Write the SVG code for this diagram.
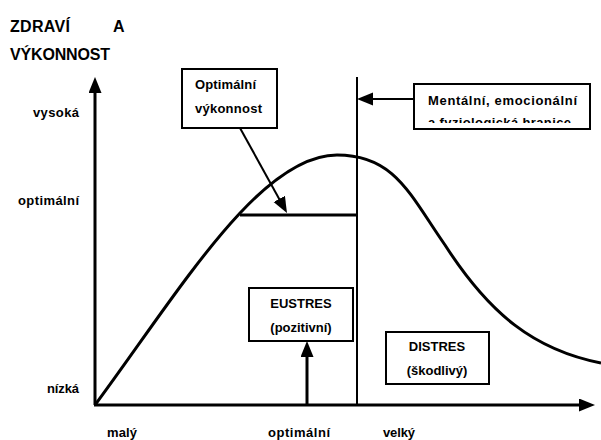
<svg xmlns="http://www.w3.org/2000/svg" width="601" height="440" viewBox="0 0 601 440">
<style>
text{font-family:"Liberation Sans",Arial,sans-serif;font-weight:bold;fill:#000}
.t{font-size:16px}
.l{font-size:13px}
.box{fill:#fff;stroke:#000;stroke-width:2}
.ax{stroke:#000;stroke-width:3;fill:none}
.ln{stroke:#000;stroke-width:2;fill:none}
.c{text-anchor:middle}
</style>
<defs>
<marker id="ah" markerUnits="userSpaceOnUse" markerWidth="17" markerHeight="14" refX="2" refY="6.5" orient="auto" viewBox="0 0 17 14">
<path d="M0,0 L16,6.5 L0,13 z" fill="#000"/>
</marker>
<clipPath id="clipM"><rect x="415" y="85" width="174" height="38"/></clipPath>
</defs>
<rect width="601" height="440" fill="#fff"/>
<g id="title">
<text class="t" x="10" y="32" textLength="60">ZDRAVÍ</text>
<text class="t" x="113" y="32">A</text>
<text class="t" x="10" y="60" textLength="100">VÝKONNOST</text>
</g>
<g id="axis-labels">
<text class="l" x="79" y="117" text-anchor="end" textLength="46">vysoká</text>
<text class="l" x="79" y="205" text-anchor="end" textLength="61">optimální</text>
<text class="l" x="79" y="393" text-anchor="end" textLength="32">nízká</text>
<text class="l" x="107" y="437" textLength="30">malý</text>
<text class="l" x="268" y="437" textLength="62">optimální</text>
<text class="l" x="383" y="437" textLength="32">velký</text>
</g>
<g id="curve">
<path class="ax" d="M95,405 C180,290 260,155 337,155 C395,155 410,195 445,245 C490,315 535,350 601,363"/>
</g>
<g id="connectors">
<line class="ax" x1="95" y1="405" x2="95" y2="91" marker-end="url(#ah)"/>
<line class="ax" x1="94" y1="405" x2="581" y2="405" marker-end="url(#ah)"/>
<line class="ln" x1="357" y1="77" x2="357" y2="405"/>
<line class="ax" x1="240" y1="215" x2="357" y2="215"/>
<line class="ln" x1="240" y1="128" x2="280.2" y2="200.7" marker-end="url(#ah)"/>
<line class="ln" x1="414" y1="99" x2="371" y2="99" marker-end="url(#ah)"/>
<line class="ax" x1="307" y1="405" x2="307" y2="355" marker-end="url(#ah)"/>
</g>
<g id="box-optimalni">
<rect class="box" x="182" y="69" width="95" height="59"/>
<text class="l" x="195" y="89" textLength="61">Optimální</text>
<text class="l" x="195" y="113" textLength="67">výkonnost</text>
</g>
<g id="box-hranice">
<rect class="box" x="414" y="84" width="176" height="45"/>
<g clip-path="url(#clipM)">
<text class="l" x="428" y="105" textLength="149">Mentální, emocionální</text>
<text class="l" x="428" y="127" textLength="143">a fyziologická hranice</text>
</g>
</g>
<g id="box-eustres">
<rect class="box" x="249" y="288" width="104" height="53"/>
<text class="l c" x="301" y="308">EUSTRES</text>
<text class="l c" x="301" y="332">(pozitivní)</text>
</g>
<g id="box-distres">
<rect class="box" x="386" y="332" width="103" height="52"/>
<text class="l c" x="437" y="351">DISTRES</text>
<text class="l c" x="437" y="375">(škodlivý)</text>
</g>
</svg>
